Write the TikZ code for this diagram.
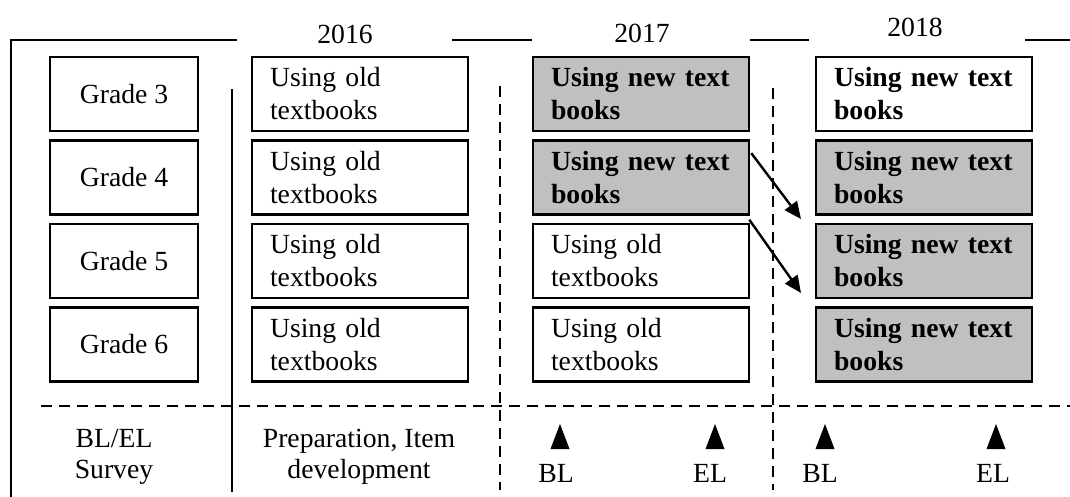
\documentclass[tikz,border=0pt]{standalone}
\usepackage{fontspec}
\setmainfont{Liberation Serif}
\usetikzlibrary{arrows.meta,calc}
\definecolor{boxgray}{RGB}{192,192,192}
\begin{document}
\begin{tikzpicture}[x=1pt,y=-1pt,
  every node/.style={font=\fontsize{27.7}{33}\selectfont},
  gradebox/.style={draw,line width=2.6pt,minimum width=148pt,minimum height=74pt,inner sep=0pt},
  bookbox/.style={draw,line width=2.6pt,minimum width=216pt,minimum height=74pt,text width=180pt,inner xsep=18pt,inner ysep=0pt,align=left},
  newbox/.style={bookbox,font=\fontsize{27.7}{33}\selectfont\bfseries},
  shaded/.style={fill=boxgray},
  frameline/.style={line width=2pt},
  sepline/.style={line width=2pt},
  sepdash/.style={line width=2.2pt,dash pattern=on 11pt off 7pt},
  movearrow/.style={-{Triangle[length=17pt,width=15pt]},line width=2.4pt},
  lbl/.style={inner sep=0pt,align=center,font=\fontsize{27.7}{31}\selectfont}
]
\useasboundingbox (0,0) rectangle (1070,497);

% frame and year headings
\node[lbl] (y16) at (345,34) {2016};
\node[lbl] (y17) at (642,33) {2017};
\node[lbl] (y18) at (915,27) {2018};
\draw[frameline] (237,40) -- (11,40) -- (11,497);
\draw[frameline] (452,40) -- (532,40);
\draw[frameline] (750,40) -- (809,40);
\draw[frameline] (1025,40) -- (1070,40);

% separators
\draw[sepline] (232,89) -- (232,492);
\draw[sepdash] (500,86) -- (500,490);
\draw[sepdash] (773,88) -- (773,490);
\draw[sepdash] (41,406) -- (1070,406);

% grade column
\node[gradebox] (g3) at (124,94) {Grade 3};
\node[gradebox] (g4) at (124,177.5) {Grade 4};
\node[gradebox] (g5) at (124,261) {Grade 5};
\node[gradebox] (g6) at (124,344.5) {Grade 6};

% 2016
\node[bookbox] (c2r1) at (360,94) {Using old\\textbooks};
\node[bookbox] (c2r2) at (360,177.5) {Using old\\textbooks};
\node[bookbox] (c2r3) at (360,261) {Using old\\textbooks};
\node[bookbox] (c2r4) at (360,344.5) {Using old\\textbooks};

% 2017
\node[newbox,shaded] (c3r1) at (641,94) {Using new text\\books};
\node[newbox,shaded] (c3r2) at (641,177.5) {Using new text\\books};
\node[bookbox] (c3r3) at (641,261) {Using old\\textbooks};
\node[bookbox] (c3r4) at (641,344.5) {Using old\\textbooks};

% 2018
\node[newbox] (c4r1) at (924,94) {Using new text\\books};
\node[newbox,shaded] (c4r2) at (924,177.5) {Using new text\\books};
\node[newbox,shaded] (c4r3) at (924,261) {Using new text\\books};
\node[newbox,shaded] (c4r4) at (924,344.5) {Using new text\\books};

% arrows
\coordinate (a1end) at (801,219);
\coordinate (a2end) at (801,293);
\draw[movearrow] ($(c3r2.north east)+(1,14)$) -- (a1end);
\draw[movearrow] ($(c3r3.north east)+(-1,-3)$) -- (a2end);

% bottom row
\node[lbl] (svy) at (114,456.4) {BL/EL\\Survey};
\node[lbl] (prep) at (359,456.6) {Preparation, Item\\development};
\node[lbl] (bl17) at (556,473) {BL};
\node[lbl] (el17) at (710,473) {EL};
\node[lbl] (bl18) at (820,473) {BL};
\node[lbl] (el18) at (993,473) {EL};
\fill (560,424) -- (569.5,449) -- (550.5,449) -- cycle;
\fill (715,424) -- (724.5,449) -- (705.5,449) -- cycle;
\fill (825,424) -- (834.5,449) -- (815.5,449) -- cycle;
\fill (996,424) -- (1005.5,449) -- (986.5,449) -- cycle;
\end{tikzpicture}
\end{document}
